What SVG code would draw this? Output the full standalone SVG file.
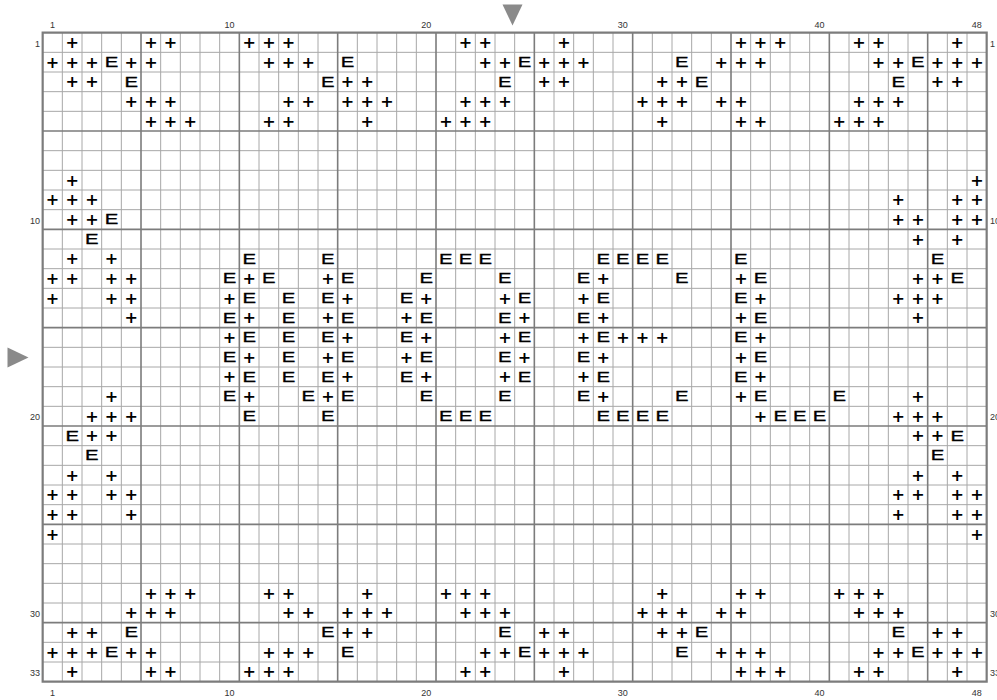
<svg xmlns="http://www.w3.org/2000/svg" width="997" height="700" viewBox="0 0 997 700">
<style>
.thin{fill:none;stroke:#a8a8a8;stroke-width:1}
.major{fill:none;stroke:#7c7c7c;stroke-width:1.6}
.border{fill:none;stroke:#7c7c7c;stroke-width:2.2}
.lbl{font-family:"Liberation Sans",Arial,sans-serif;font-size:9px;fill:#333}
.p{font-family:"DejaVu Sans","Liberation Sans",sans-serif;font-weight:bold;font-size:16px;fill:#000;text-anchor:middle;dominant-baseline:central}
.e{font-family:"Liberation Sans",Arial,sans-serif;font-size:14.5px;fill:#000;stroke:#000;stroke-width:0.3;text-anchor:middle;dominant-baseline:central;transform-box:fill-box;transform-origin:center;transform:scaleX(1.4)}
.mk{fill:#8a8a8a}
</style>
<rect width="997" height="700" fill="#fff"/>
<g id="grid" transform="translate(42.67 32.67) scale(19.6667)">
<path class="thin" vector-effect="non-scaling-stroke" d="M1 0V33M2 0V33M3 0V33M4 0V33M6 0V33M7 0V33M8 0V33M9 0V33M11 0V33M12 0V33M13 0V33M14 0V33M16 0V33M17 0V33M18 0V33M19 0V33M21 0V33M22 0V33M23 0V33M24 0V33M26 0V33M27 0V33M28 0V33M29 0V33M31 0V33M32 0V33M33 0V33M34 0V33M36 0V33M37 0V33M38 0V33M39 0V33M41 0V33M42 0V33M43 0V33M44 0V33M46 0V33M47 0V33M0 1H48M0 2H48M0 3H48M0 4H48M0 6H48M0 7H48M0 8H48M0 9H48M0 11H48M0 12H48M0 13H48M0 14H48M0 16H48M0 17H48M0 18H48M0 19H48M0 21H48M0 22H48M0 23H48M0 24H48M0 26H48M0 27H48M0 28H48M0 29H48M0 31H48M0 32H48"/>
<path class="major" vector-effect="non-scaling-stroke" d="M5 0V33M10 0V33M15 0V33M20 0V33M25 0V33M30 0V33M35 0V33M40 0V33M45 0V33M0 5H48M0 10H48M0 15H48M0 20H48M0 25H48M0 30H48"/>
<rect class="border" vector-effect="non-scaling-stroke" x="0" y="0" width="48" height="33"/>
</g>
<g id="labels" class="lbl">
<g text-anchor="middle">
<text x="52.5" y="28.3">1</text><text x="229.5" y="28.3">10</text><text x="426.17" y="28.3">20</text><text x="622.83" y="28.3">30</text><text x="819.5" y="28.3">40</text><text x="976.83" y="28.3">48</text>
<text x="52.5" y="695.5">1</text><text x="229.5" y="695.5">10</text><text x="426.17" y="695.5">20</text><text x="622.83" y="695.5">30</text><text x="819.5" y="695.5">40</text><text x="976.83" y="695.5">48</text>
</g>
<g text-anchor="end">
<text x="40" y="46.5">1</text><text x="40" y="223.5">10</text><text x="40" y="420.2">20</text><text x="40" y="616.8">30</text><text x="40" y="675.8">33</text>
</g>
<g text-anchor="start">
<text x="990" y="46.5">1</text><text x="990" y="223.5">10</text><text x="990" y="420.2">20</text><text x="990" y="616.8">30</text><text x="990" y="675.8">33</text>
</g>
</g>
<g id="markers">
<polygon class="mk" points="502.5,4.5 522.5,4.5 512.5,25.5"/>
<polygon class="mk" points="7.5,347.5 28.5,357.5 7.5,367.5"/>
</g>
<g id="symbols">
<g id="row1" transform="translate(0 42.5)">
<text class="p" x="72.17">+</text><text class="p" x="150.83">+</text><text class="p" x="170.5">+</text><text class="p" x="249.17">+</text><text class="p" x="268.83">+</text><text class="p" x="288.5">+</text><text class="p" x="465.5">+</text><text class="p" x="485.17">+</text><text class="p" x="563.83">+</text><text class="p" x="740.83">+</text><text class="p" x="760.5">+</text><text class="p" x="780.17">+</text><text class="p" x="858.83">+</text><text class="p" x="878.5">+</text><text class="p" x="957.17">+</text>
</g>
<g id="row2" transform="translate(0 62.17)">
<text class="p" x="52.5">+</text><text class="p" x="72.17">+</text><text class="p" x="91.83">+</text><text class="e" x="111.5">E</text><text class="p" x="131.17">+</text><text class="p" x="150.83">+</text><text class="p" x="268.83">+</text><text class="p" x="288.5">+</text><text class="p" x="308.17">+</text><text class="e" x="347.5">E</text><text class="p" x="485.17">+</text><text class="p" x="504.83">+</text><text class="e" x="524.5">E</text><text class="p" x="544.17">+</text><text class="p" x="563.83">+</text><text class="p" x="583.5">+</text><text class="e" x="681.83">E</text><text class="p" x="721.17">+</text><text class="p" x="740.83">+</text><text class="p" x="760.5">+</text><text class="p" x="878.5">+</text><text class="p" x="898.17">+</text><text class="e" x="917.83">E</text><text class="p" x="937.5">+</text><text class="p" x="957.17">+</text><text class="p" x="976.83">+</text>
</g>
<g id="row3" transform="translate(0 81.83)">
<text class="p" x="72.17">+</text><text class="p" x="91.83">+</text><text class="e" x="131.17">E</text><text class="e" x="327.83">E</text><text class="p" x="347.5">+</text><text class="p" x="367.17">+</text><text class="e" x="504.83">E</text><text class="p" x="544.17">+</text><text class="p" x="563.83">+</text><text class="p" x="662.17">+</text><text class="p" x="681.83">+</text><text class="e" x="701.5">E</text><text class="e" x="898.17">E</text><text class="p" x="937.5">+</text><text class="p" x="957.17">+</text>
</g>
<g id="row4" transform="translate(0 101.5)">
<text class="p" x="131.17">+</text><text class="p" x="150.83">+</text><text class="p" x="170.5">+</text><text class="p" x="288.5">+</text><text class="p" x="308.17">+</text><text class="p" x="347.5">+</text><text class="p" x="367.17">+</text><text class="p" x="386.83">+</text><text class="p" x="465.5">+</text><text class="p" x="485.17">+</text><text class="p" x="504.83">+</text><text class="p" x="642.5">+</text><text class="p" x="662.17">+</text><text class="p" x="681.83">+</text><text class="p" x="721.17">+</text><text class="p" x="740.83">+</text><text class="p" x="858.83">+</text><text class="p" x="878.5">+</text><text class="p" x="898.17">+</text>
</g>
<g id="row5" transform="translate(0 121.17)">
<text class="p" x="150.83">+</text><text class="p" x="170.5">+</text><text class="p" x="190.17">+</text><text class="p" x="268.83">+</text><text class="p" x="288.5">+</text><text class="p" x="367.17">+</text><text class="p" x="445.83">+</text><text class="p" x="465.5">+</text><text class="p" x="485.17">+</text><text class="p" x="662.17">+</text><text class="p" x="740.83">+</text><text class="p" x="760.5">+</text><text class="p" x="839.17">+</text><text class="p" x="858.83">+</text><text class="p" x="878.5">+</text>
</g>
<g id="row8" transform="translate(0 180.17)">
<text class="p" x="72.17">+</text><text class="p" x="976.83">+</text>
</g>
<g id="row9" transform="translate(0 199.83)">
<text class="p" x="52.5">+</text><text class="p" x="72.17">+</text><text class="p" x="91.83">+</text><text class="p" x="898.17">+</text><text class="p" x="957.17">+</text><text class="p" x="976.83">+</text>
</g>
<g id="row10" transform="translate(0 219.5)">
<text class="p" x="72.17">+</text><text class="p" x="91.83">+</text><text class="e" x="111.5">E</text><text class="p" x="898.17">+</text><text class="p" x="917.83">+</text><text class="p" x="957.17">+</text><text class="p" x="976.83">+</text>
</g>
<g id="row11" transform="translate(0 239.17)">
<text class="e" x="91.83">E</text><text class="p" x="917.83">+</text><text class="p" x="957.17">+</text>
</g>
<g id="row12" transform="translate(0 258.83)">
<text class="p" x="72.17">+</text><text class="p" x="111.5">+</text><text class="e" x="249.17">E</text><text class="e" x="327.83">E</text><text class="e" x="445.83">E</text><text class="e" x="465.5">E</text><text class="e" x="485.17">E</text><text class="e" x="603.17">E</text><text class="e" x="622.83">E</text><text class="e" x="642.5">E</text><text class="e" x="662.17">E</text><text class="e" x="740.83">E</text><text class="e" x="937.5">E</text>
</g>
<g id="row13" transform="translate(0 278.5)">
<text class="p" x="52.5">+</text><text class="p" x="72.17">+</text><text class="p" x="111.5">+</text><text class="p" x="131.17">+</text><text class="e" x="229.5">E</text><text class="p" x="249.17">+</text><text class="e" x="268.83">E</text><text class="p" x="327.83">+</text><text class="e" x="347.5">E</text><text class="e" x="426.17">E</text><text class="e" x="504.83">E</text><text class="e" x="583.5">E</text><text class="p" x="603.17">+</text><text class="e" x="681.83">E</text><text class="p" x="740.83">+</text><text class="e" x="760.5">E</text><text class="p" x="917.83">+</text><text class="p" x="937.5">+</text><text class="e" x="957.17">E</text>
</g>
<g id="row14" transform="translate(0 298.17)">
<text class="p" x="52.5">+</text><text class="p" x="111.5">+</text><text class="p" x="131.17">+</text><text class="p" x="229.5">+</text><text class="e" x="249.17">E</text><text class="e" x="288.5">E</text><text class="e" x="327.83">E</text><text class="p" x="347.5">+</text><text class="e" x="406.5">E</text><text class="p" x="426.17">+</text><text class="p" x="504.83">+</text><text class="e" x="524.5">E</text><text class="p" x="583.5">+</text><text class="e" x="603.17">E</text><text class="e" x="740.83">E</text><text class="p" x="760.5">+</text><text class="p" x="898.17">+</text><text class="p" x="917.83">+</text><text class="p" x="937.5">+</text>
</g>
<g id="row15" transform="translate(0 317.83)">
<text class="p" x="131.17">+</text><text class="e" x="229.5">E</text><text class="p" x="249.17">+</text><text class="e" x="288.5">E</text><text class="p" x="327.83">+</text><text class="e" x="347.5">E</text><text class="p" x="406.5">+</text><text class="e" x="426.17">E</text><text class="e" x="504.83">E</text><text class="p" x="524.5">+</text><text class="e" x="583.5">E</text><text class="p" x="603.17">+</text><text class="p" x="740.83">+</text><text class="e" x="760.5">E</text><text class="p" x="917.83">+</text>
</g>
<g id="row16" transform="translate(0 337.5)">
<text class="p" x="229.5">+</text><text class="e" x="249.17">E</text><text class="e" x="288.5">E</text><text class="e" x="327.83">E</text><text class="p" x="347.5">+</text><text class="e" x="406.5">E</text><text class="p" x="426.17">+</text><text class="p" x="504.83">+</text><text class="e" x="524.5">E</text><text class="p" x="583.5">+</text><text class="e" x="603.17">E</text><text class="p" x="622.83">+</text><text class="p" x="642.5">+</text><text class="p" x="662.17">+</text><text class="e" x="740.83">E</text><text class="p" x="760.5">+</text>
</g>
<g id="row17" transform="translate(0 357.17)">
<text class="e" x="229.5">E</text><text class="p" x="249.17">+</text><text class="e" x="288.5">E</text><text class="p" x="327.83">+</text><text class="e" x="347.5">E</text><text class="p" x="406.5">+</text><text class="e" x="426.17">E</text><text class="e" x="504.83">E</text><text class="p" x="524.5">+</text><text class="e" x="583.5">E</text><text class="p" x="603.17">+</text><text class="p" x="740.83">+</text><text class="e" x="760.5">E</text>
</g>
<g id="row18" transform="translate(0 376.83)">
<text class="p" x="229.5">+</text><text class="e" x="249.17">E</text><text class="e" x="288.5">E</text><text class="e" x="327.83">E</text><text class="p" x="347.5">+</text><text class="e" x="406.5">E</text><text class="p" x="426.17">+</text><text class="p" x="504.83">+</text><text class="e" x="524.5">E</text><text class="p" x="583.5">+</text><text class="e" x="603.17">E</text><text class="e" x="740.83">E</text><text class="p" x="760.5">+</text>
</g>
<g id="row19" transform="translate(0 396.5)">
<text class="p" x="111.5">+</text><text class="e" x="229.5">E</text><text class="p" x="249.17">+</text><text class="e" x="308.17">E</text><text class="p" x="327.83">+</text><text class="e" x="347.5">E</text><text class="e" x="426.17">E</text><text class="e" x="504.83">E</text><text class="e" x="583.5">E</text><text class="p" x="603.17">+</text><text class="e" x="681.83">E</text><text class="p" x="740.83">+</text><text class="e" x="760.5">E</text><text class="e" x="839.17">E</text><text class="p" x="917.83">+</text>
</g>
<g id="row20" transform="translate(0 416.17)">
<text class="p" x="91.83">+</text><text class="p" x="111.5">+</text><text class="p" x="131.17">+</text><text class="e" x="249.17">E</text><text class="e" x="327.83">E</text><text class="e" x="445.83">E</text><text class="e" x="465.5">E</text><text class="e" x="485.17">E</text><text class="e" x="603.17">E</text><text class="e" x="622.83">E</text><text class="e" x="642.5">E</text><text class="e" x="662.17">E</text><text class="p" x="760.5">+</text><text class="e" x="780.17">E</text><text class="e" x="799.83">E</text><text class="e" x="819.5">E</text><text class="p" x="898.17">+</text><text class="p" x="917.83">+</text><text class="p" x="937.5">+</text>
</g>
<g id="row21" transform="translate(0 435.83)">
<text class="e" x="72.17">E</text><text class="p" x="91.83">+</text><text class="p" x="111.5">+</text><text class="p" x="917.83">+</text><text class="p" x="937.5">+</text><text class="e" x="957.17">E</text>
</g>
<g id="row22" transform="translate(0 455.5)">
<text class="e" x="91.83">E</text><text class="e" x="937.5">E</text>
</g>
<g id="row23" transform="translate(0 475.17)">
<text class="p" x="72.17">+</text><text class="p" x="111.5">+</text><text class="p" x="917.83">+</text><text class="p" x="957.17">+</text>
</g>
<g id="row24" transform="translate(0 494.83)">
<text class="p" x="52.5">+</text><text class="p" x="72.17">+</text><text class="p" x="111.5">+</text><text class="p" x="131.17">+</text><text class="p" x="898.17">+</text><text class="p" x="917.83">+</text><text class="p" x="957.17">+</text><text class="p" x="976.83">+</text>
</g>
<g id="row25" transform="translate(0 514.5)">
<text class="p" x="52.5">+</text><text class="p" x="72.17">+</text><text class="p" x="131.17">+</text><text class="p" x="898.17">+</text><text class="p" x="957.17">+</text><text class="p" x="976.83">+</text>
</g>
<g id="row26" transform="translate(0 534.17)">
<text class="p" x="52.5">+</text><text class="p" x="976.83">+</text>
</g>
<g id="row29" transform="translate(0 593.17)">
<text class="p" x="150.83">+</text><text class="p" x="170.5">+</text><text class="p" x="190.17">+</text><text class="p" x="268.83">+</text><text class="p" x="288.5">+</text><text class="p" x="367.17">+</text><text class="p" x="445.83">+</text><text class="p" x="465.5">+</text><text class="p" x="485.17">+</text><text class="p" x="662.17">+</text><text class="p" x="740.83">+</text><text class="p" x="760.5">+</text><text class="p" x="839.17">+</text><text class="p" x="858.83">+</text><text class="p" x="878.5">+</text>
</g>
<g id="row30" transform="translate(0 612.83)">
<text class="p" x="131.17">+</text><text class="p" x="150.83">+</text><text class="p" x="170.5">+</text><text class="p" x="288.5">+</text><text class="p" x="308.17">+</text><text class="p" x="347.5">+</text><text class="p" x="367.17">+</text><text class="p" x="386.83">+</text><text class="p" x="465.5">+</text><text class="p" x="485.17">+</text><text class="p" x="504.83">+</text><text class="p" x="642.5">+</text><text class="p" x="662.17">+</text><text class="p" x="681.83">+</text><text class="p" x="721.17">+</text><text class="p" x="740.83">+</text><text class="p" x="858.83">+</text><text class="p" x="878.5">+</text><text class="p" x="898.17">+</text>
</g>
<g id="row31" transform="translate(0 632.5)">
<text class="p" x="72.17">+</text><text class="p" x="91.83">+</text><text class="e" x="131.17">E</text><text class="e" x="327.83">E</text><text class="p" x="347.5">+</text><text class="p" x="367.17">+</text><text class="e" x="504.83">E</text><text class="p" x="544.17">+</text><text class="p" x="563.83">+</text><text class="p" x="662.17">+</text><text class="p" x="681.83">+</text><text class="e" x="701.5">E</text><text class="e" x="898.17">E</text><text class="p" x="937.5">+</text><text class="p" x="957.17">+</text>
</g>
<g id="row32" transform="translate(0 652.17)">
<text class="p" x="52.5">+</text><text class="p" x="72.17">+</text><text class="p" x="91.83">+</text><text class="e" x="111.5">E</text><text class="p" x="131.17">+</text><text class="p" x="150.83">+</text><text class="p" x="268.83">+</text><text class="p" x="288.5">+</text><text class="p" x="308.17">+</text><text class="e" x="347.5">E</text><text class="p" x="485.17">+</text><text class="p" x="504.83">+</text><text class="e" x="524.5">E</text><text class="p" x="544.17">+</text><text class="p" x="563.83">+</text><text class="p" x="583.5">+</text><text class="e" x="681.83">E</text><text class="p" x="721.17">+</text><text class="p" x="740.83">+</text><text class="p" x="760.5">+</text><text class="p" x="878.5">+</text><text class="p" x="898.17">+</text><text class="e" x="917.83">E</text><text class="p" x="937.5">+</text><text class="p" x="957.17">+</text><text class="p" x="976.83">+</text>
</g>
<g id="row33" transform="translate(0 671.83)">
<text class="p" x="72.17">+</text><text class="p" x="150.83">+</text><text class="p" x="170.5">+</text><text class="p" x="249.17">+</text><text class="p" x="268.83">+</text><text class="p" x="288.5">+</text><text class="p" x="465.5">+</text><text class="p" x="485.17">+</text><text class="p" x="563.83">+</text><text class="p" x="740.83">+</text><text class="p" x="760.5">+</text><text class="p" x="780.17">+</text><text class="p" x="858.83">+</text><text class="p" x="878.5">+</text><text class="p" x="957.17">+</text>
</g>
</g>
</svg>
